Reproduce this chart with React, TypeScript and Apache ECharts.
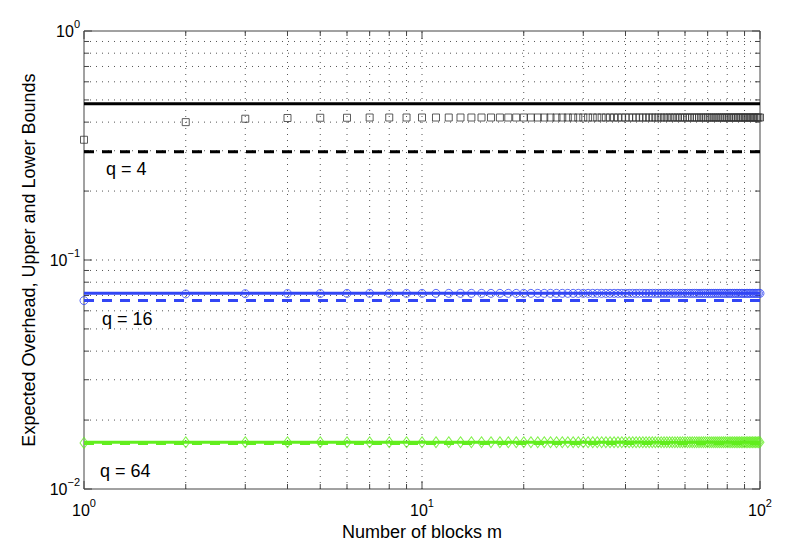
import React, { useEffect, useRef } from "react";
import * as echarts from "echarts";

const FONT = '"Liberation Sans", Arial, Helvetica, sans-serif';

// Number of blocks m (x values of the markers)
const mValues = [
  1, 2, 3, 4, 5, 6, 7, 8, 9, 10,
  11, 12, 13, 14, 15, 16, 17, 18, 19, 20,
  21, 22, 23, 24, 25, 26, 27, 28, 29, 30,
  31, 32, 33, 34, 35, 36, 37, 38, 39, 40,
  41, 42, 43, 44, 45, 46, 47, 48, 49, 50,
  51, 52, 53, 54, 55, 56, 57, 58, 59, 60,
  61, 62, 63, 64, 65, 66, 67, 68, 69, 70,
  71, 72, 73, 74, 75, 76, 77, 78, 79, 80,
  81, 82, 83, 84, 85, 86, 87, 88, 89, 90,
  91, 92, 93, 94, 95, 96, 97, 98, 99, 100,
];

// Expected overhead, q = 4 (squares)
const overheadQ4 = [
  0.335, 0.400, 0.414, 0.417, 0.418, 0.418, 0.419, 0.419, 0.419, 0.419,
  0.419, 0.419, 0.419, 0.419, 0.419, 0.419, 0.419, 0.419, 0.419, 0.419,
  0.419, 0.419, 0.419, 0.419, 0.419, 0.419, 0.419, 0.419, 0.419, 0.419,
  0.419, 0.419, 0.419, 0.419, 0.419, 0.419, 0.419, 0.419, 0.419, 0.419,
  0.419, 0.419, 0.419, 0.419, 0.419, 0.419, 0.419, 0.419, 0.419, 0.419,
  0.419, 0.419, 0.419, 0.419, 0.419, 0.419, 0.419, 0.419, 0.419, 0.419,
  0.419, 0.419, 0.419, 0.419, 0.419, 0.419, 0.419, 0.419, 0.419, 0.419,
  0.419, 0.419, 0.419, 0.419, 0.419, 0.419, 0.419, 0.419, 0.419, 0.419,
  0.419, 0.419, 0.419, 0.419, 0.419, 0.419, 0.419, 0.419, 0.419, 0.419,
  0.419, 0.419, 0.419, 0.419, 0.419, 0.419, 0.419, 0.419, 0.419, 0.419,
];

// Expected overhead, q = 16 (circles)
const overheadQ16 = [
  0.0665, 0.0711, 0.0713, 0.0714, 0.0714, 0.0715, 0.0715, 0.0715, 0.0715, 0.0715,
  0.0715, 0.0715, 0.0715, 0.0715, 0.0715, 0.0715, 0.0715, 0.0715, 0.0715, 0.0715,
  0.0715, 0.0715, 0.0715, 0.0715, 0.0715, 0.0715, 0.0715, 0.0715, 0.0715, 0.0715,
  0.0715, 0.0715, 0.0715, 0.0715, 0.0715, 0.0715, 0.0715, 0.0715, 0.0715, 0.0715,
  0.0715, 0.0715, 0.0715, 0.0715, 0.0715, 0.0715, 0.0715, 0.0715, 0.0715, 0.0715,
  0.0715, 0.0715, 0.0715, 0.0715, 0.0715, 0.0715, 0.0715, 0.0715, 0.0715, 0.0715,
  0.0715, 0.0715, 0.0715, 0.0715, 0.0715, 0.0715, 0.0715, 0.0715, 0.0715, 0.0715,
  0.0715, 0.0715, 0.0715, 0.0715, 0.0715, 0.0715, 0.0715, 0.0715, 0.0715, 0.0715,
  0.0715, 0.0715, 0.0715, 0.0715, 0.0715, 0.0715, 0.0715, 0.0715, 0.0715, 0.0715,
  0.0715, 0.0715, 0.0715, 0.0715, 0.0715, 0.0715, 0.0715, 0.0715, 0.0715, 0.0715,
];

// Expected overhead, q = 64 (diamonds)
const overheadQ64 = [
  0.0159, 0.0160, 0.0160, 0.0160, 0.0160, 0.0160, 0.0160, 0.0160, 0.0160, 0.0160,
  0.0160, 0.0160, 0.0160, 0.0160, 0.0160, 0.0160, 0.0160, 0.0160, 0.0160, 0.0160,
  0.0160, 0.0160, 0.0160, 0.0160, 0.0160, 0.0160, 0.0160, 0.0160, 0.0160, 0.0160,
  0.0160, 0.0160, 0.0160, 0.0160, 0.0160, 0.0160, 0.0160, 0.0160, 0.0160, 0.0160,
  0.0160, 0.0160, 0.0160, 0.0160, 0.0160, 0.0160, 0.0160, 0.0160, 0.0160, 0.0160,
  0.0160, 0.0160, 0.0160, 0.0160, 0.0160, 0.0160, 0.0160, 0.0160, 0.0160, 0.0160,
  0.0160, 0.0160, 0.0160, 0.0160, 0.0160, 0.0160, 0.0160, 0.0160, 0.0160, 0.0160,
  0.0160, 0.0160, 0.0160, 0.0160, 0.0160, 0.0160, 0.0160, 0.0160, 0.0160, 0.0160,
  0.0160, 0.0160, 0.0160, 0.0160, 0.0160, 0.0160, 0.0160, 0.0160, 0.0160, 0.0160,
  0.0160, 0.0160, 0.0160, 0.0160, 0.0160, 0.0160, 0.0160, 0.0160, 0.0160, 0.0160,
];

// Bounds for q = 4, 16, 64
const qLabels = ["q = 4", "q = 16", "q = 64"];
const upperBound = [0.481, 0.0715, 0.0160];
const lowerBound = [0.297, 0.0665, 0.0158];

// Axis extents and grid/tick positions
const X_MIN = 1;
const X_MAX = 100;
const Y_MIN = 0.01;
const Y_MAX = 1;
const xGridTicks = [1, 2, 3, 4, 5, 6, 7, 8, 9, 10, 20, 30, 40, 50, 60, 70, 80, 90, 100];
const xMajorTicks = [1, 10, 100];
const yGridTicks = [
  0.01, 0.02, 0.03, 0.04, 0.05, 0.06, 0.07, 0.08, 0.09,
  0.1, 0.2, 0.3, 0.4, 0.5, 0.6, 0.7, 0.8, 0.9, 1,
];
const yMajorTicks = [0.01, 0.1, 1];

const colors = ["#000000", "#3246f5", "#62ee1e"];
const markerColors = ["#333333", "#3246f5", "#62ee1e"];
const markerSymbols = ["rect", "circle", "diamond"];
const markerSizes: any[] = [7, 8, [8, 11]];

const GRID_COLOR = "#555";
const AXIS_COLOR = "#444";

function supLabel(v: number) {
  const e = Math.round(Math.log10(v));
  const s = e < 0 ? "\u2212" + Math.abs(e) : String(e);
  return `{b|10}{s|${s}}`;
}

const richLabel = {
  b: { fontSize: 16, lineHeight: 26, fontFamily: FONT, color: "#000" },
  s: { fontSize: 11, lineHeight: 11, verticalAlign: "top", fontFamily: FONT, color: "#000" },
};

export default function App() {
  const ref = useRef<HTMLDivElement>(null);

  useEffect(() => {
    if (!ref.current) return;
    const chart = echarts.init(ref.current, undefined, { renderer: "svg" });

    const isMajorX = (v: number) => xMajorTicks.some((t) => Math.abs(t - v) < 1e-9);
    const isMajorY = (v: number) => yMajorTicks.some((t) => Math.abs(t - v) < 1e-12);

    const xGridSeries = {
      type: "custom",
      coordinateSystem: "cartesian2d",
      z: 1,
      silent: true,
      clip: false,
      data: xGridTicks.map((v) => [v, Y_MIN]),
      encode: { x: 0, y: 1 },
      renderItem: (params: any, api: any) => {
        const v = api.value(0);
        const p0 = api.coord([v, Y_MIN]);
        const p1 = api.coord([v, Y_MAX]);
        const len = isMajorX(v) ? 8 : 5;
        const children: any[] = [];
        if (v !== X_MIN && v !== X_MAX) {
          children.push({
            type: "line",
            shape: { x1: p0[0], y1: p0[1], x2: p1[0], y2: p1[1] },
            style: { stroke: GRID_COLOR, lineWidth: 1, lineDash: [1, 5] },
          });
        }
        children.push({
          type: "line",
          shape: { x1: p0[0], y1: p0[1], x2: p0[0], y2: p0[1] - len },
          style: { stroke: AXIS_COLOR, lineWidth: 1 },
        });
        children.push({
          type: "line",
          shape: { x1: p1[0], y1: p1[1], x2: p1[0], y2: p1[1] + len },
          style: { stroke: AXIS_COLOR, lineWidth: 1 },
        });
        return { type: "group", children };
      },
    };

    const yGridSeries = {
      type: "custom",
      coordinateSystem: "cartesian2d",
      z: 1,
      silent: true,
      clip: false,
      data: yGridTicks.map((v) => [X_MIN, v]),
      encode: { x: 0, y: 1 },
      renderItem: (params: any, api: any) => {
        const v = api.value(1);
        const p0 = api.coord([X_MIN, v]);
        const p1 = api.coord([X_MAX, v]);
        const len = isMajorY(v) ? 8 : 5;
        const children: any[] = [];
        if (Math.abs(v - Y_MIN) > 1e-12 && Math.abs(v - Y_MAX) > 1e-12) {
          children.push({
            type: "line",
            shape: { x1: p0[0], y1: p0[1], x2: p1[0], y2: p1[1] },
            style: { stroke: GRID_COLOR, lineWidth: 1, lineDash: [1, 5] },
          });
        }
        children.push({
          type: "line",
          shape: { x1: p0[0], y1: p0[1], x2: p0[0] + len, y2: p0[1] },
          style: { stroke: AXIS_COLOR, lineWidth: 1 },
        });
        children.push({
          type: "line",
          shape: { x1: p1[0], y1: p1[1], x2: p1[0] - len, y2: p1[1] },
          style: { stroke: AXIS_COLOR, lineWidth: 1 },
        });
        return { type: "group", children };
      },
    };

    const overheads = [overheadQ4, overheadQ16, overheadQ64];
    const lineSeries: any[] = [];
    const markerSeries: any[] = [];
    for (let i = 0; i < 3; i++) {
      lineSeries.push({
        type: "line",
        name: qLabels[i] + " upper",
        data: [
          [X_MIN, upperBound[i]],
          [X_MAX, upperBound[i]],
        ],
        showSymbol: false,
        symbol: "none",
        z: 2,
        lineStyle: { color: colors[i], width: 3 },
      });
      lineSeries.push({
        type: "line",
        name: qLabels[i] + " lower",
        data: [
          [X_MIN, lowerBound[i]],
          [X_MAX, lowerBound[i]],
        ],
        showSymbol: false,
        symbol: "none",
        z: 2,
        lineStyle: { color: colors[i], width: 3, type: [10, 8] },
      });
      markerSeries.push({
        type: "scatter",
        name: qLabels[i],
        data: mValues.map((m, k) => [m, overheads[i][k]]),
        symbol: markerSymbols[i],
        symbolSize: markerSizes[i],
        z: 3,
        clip: false,
        itemStyle: { color: "transparent", borderColor: markerColors[i], borderWidth: 1 },
      });
    }

    const option: any = {
      animation: false,
      backgroundColor: "#ffffff",
      textStyle: { fontFamily: FONT },
      grid: {
        left: 84,
        right: 29,
        top: 31,
        bottom: 69,
        show: true,
        borderColor: AXIS_COLOR,
        borderWidth: 1,
        backgroundColor: "transparent",
        containLabel: false,
      },
      xAxis: {
        type: "log",
        logBase: 10,
        min: X_MIN,
        max: X_MAX,
        axisLine: { show: false },
        axisTick: { show: false },
        splitLine: { show: false },
        minorTick: { show: false },
        axisLabel: { formatter: supLabel, rich: richLabel, margin: 8 },
        name: "Number of blocks m",
        nameLocation: "middle",
        nameGap: 33,
        nameTextStyle: { fontSize: 18, fontFamily: FONT, color: "#000" },
      },
      yAxis: {
        type: "log",
        logBase: 10,
        min: Y_MIN,
        max: Y_MAX,
        axisLine: { show: false },
        axisTick: { show: false },
        splitLine: { show: false },
        minorTick: { show: false },
        axisLabel: { formatter: supLabel, rich: richLabel, margin: 4 },
        name: "Expected Overhead, Upper and Lower Bounds",
        nameLocation: "middle",
        nameGap: 46,
        nameTextStyle: { fontSize: 18, fontFamily: FONT, color: "#000" },
      },
      graphic: [
        { type: "text", x: 106, y: 169, style: { text: qLabels[0], font: `18px ${FONT}`, fill: "#000", verticalAlign: "middle" } },
        { type: "text", x: 102, y: 319, style: { text: qLabels[1], font: `18px ${FONT}`, fill: "#000", verticalAlign: "middle" } },
        { type: "text", x: 100, y: 471, style: { text: qLabels[2], font: `18px ${FONT}`, fill: "#000", verticalAlign: "middle" } },
      ],
      series: [xGridSeries, yGridSeries, ...lineSeries, ...markerSeries],
    };

    chart.setOption(option);
    return () => chart.dispose();
  }, []);

  return (
    <div
      ref={ref}
      style={{ position: "fixed", left: 0, top: 0, width: 789, height: 558, background: "#fff" }}
    />
  );
}
